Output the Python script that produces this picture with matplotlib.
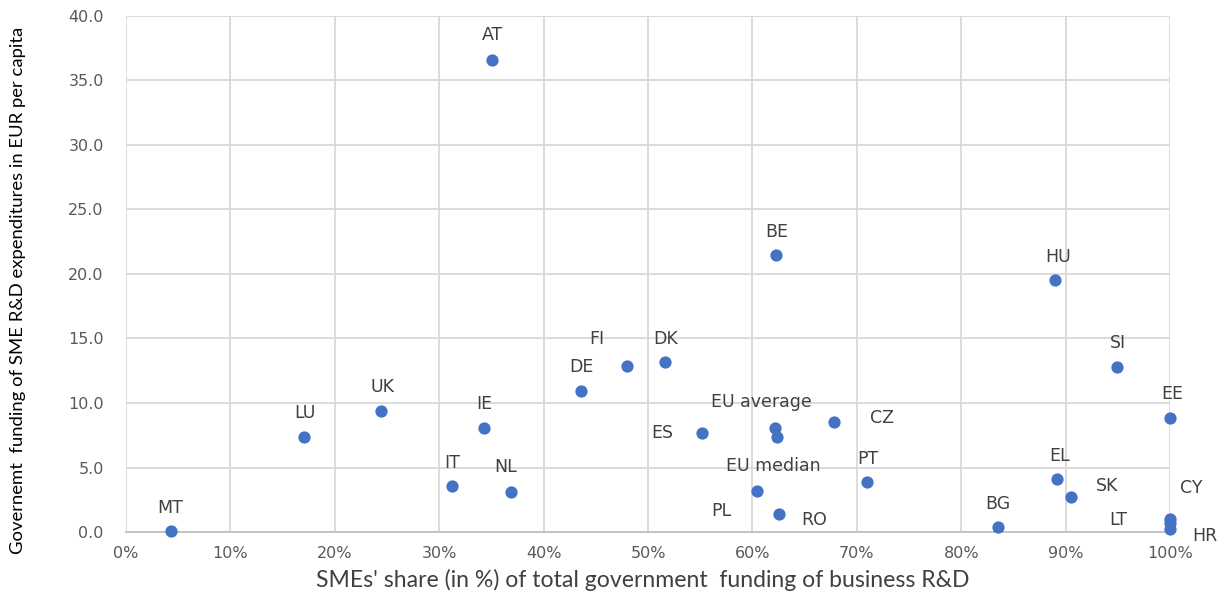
import matplotlib
matplotlib.use("Agg")
import matplotlib.pyplot as plt
from matplotlib.ticker import FuncFormatter, MultipleLocator

countries = ["AT", "BE", "HU", "SI", "EE", "FI", "DK", "DE", "UK", "LU", "IE", "ES",
             "EU average", "EU median", "CZ", "PT", "IT", "NL", "MT", "PL", "RO", "BG",
             "EL", "SK", "CY", "LT", "HR"]
sme_share = [35.1, 62.3, 89.0, 94.9, 100.0, 48.0, 51.6, 43.6, 24.4, 17.0, 34.3, 55.2,
             62.2, 62.4, 67.8, 71.0, 31.2, 36.9, 4.3, 60.4, 62.5, 83.5,
             89.2, 90.5, 100.0, 100.0, 100.0]
funding_pc = [36.6, 21.5, 19.5, 12.8, 8.8, 12.9, 13.2, 10.9, 9.4, 7.4, 8.1, 7.7,
              8.1, 7.4, 8.5, 3.9, 3.6, 3.1, 0.1, 3.2, 1.4, 0.4,
              4.1, 2.7, 1.0, 0.7, 0.2]
# label offsets in pixels (dx, dy)
label_offsets = {
    "AT": (0, 25), "BE": (0, 23), "HU": (3, 23), "SI": (1, 24), "EE": (2, 24),
    "FI": (-30, 27), "DK": (1, 23), "DE": (0, 24), "UK": (2, 24), "LU": (1, 24),
    "IE": (0, 24), "ES": (-40, 0), "EU average": (-14, 26), "EU median": (-4, -29),
    "CZ": (48, 4), "PT": (1, 23), "IT": (0, 23), "NL": (-6, 25), "MT": (-1, 23),
    "PL": (-35, -20), "RO": (36, -6), "BG": (0, 23), "EL": (2, 23), "SK": (36, 11),
    "CY": (21, 31), "LT": (-52, 3), "HR": (35, -7),
}

fig = plt.figure(figsize=(12.32, 6.01), dpi=100)
ax = fig.add_axes([0.1023, 0.1148, 0.8474, 0.8586])

ax.scatter(sme_share, funding_pc, s=78, color="#4472C4", zorder=3, linewidths=0,
           clip_on=False)

for name, x, y in zip(countries, sme_share, funding_pc):
    dx, dy = label_offsets[name]
    ax.annotate(name, (x, y), xytext=(dx, dy), textcoords="offset pixels",
                ha="center", va="center", fontsize=12.5, color="#404040",
                family="DejaVu Sans", zorder=4, annotation_clip=False)

ax.set_xlim(0, 100)
ax.set_ylim(0, 40)
ax.xaxis.set_major_locator(MultipleLocator(10))
ax.yaxis.set_major_locator(MultipleLocator(5))
ax.xaxis.set_major_formatter(FuncFormatter(lambda v, p: f"{v:.0f}%"))
ax.yaxis.set_major_formatter(FuncFormatter(lambda v, p: f"{v:.1f}"))
ax.grid(True, color="#D9D9D9", linewidth=1.3, zorder=0)
ax.set_axisbelow(True)
for s in ["top", "right", "left"]:
    ax.spines[s].set_visible(False)
ax.spines["bottom"].set_color("#BFBFBF")
ax.spines["bottom"].set_linewidth(1.3)
ax.tick_params(axis="both", length=0, labelsize=11.5, colors="#595959")
ax.tick_params(axis="x", pad=10)
ax.tick_params(axis="y", pad=16)
for lab in ax.get_xticklabels() + ax.get_yticklabels():
    lab.set_family("DejaVu Sans")

ax.set_xlabel("SMEs' share (in %) of total government  funding of business R&D",
              fontsize=16.6, color="#404040", family="Lato", va="center")
ax.xaxis.set_label_coords(0.495, -0.093)
ax.set_ylabel("Governemt  funding of SME R&D expenditures in EUR per capita",
              fontsize=13.3, color="#000000", family="Lato", va="center")
ax.yaxis.set_label_coords(-0.1034, 0.468)

fig.savefig("out.png", dpi=100)
